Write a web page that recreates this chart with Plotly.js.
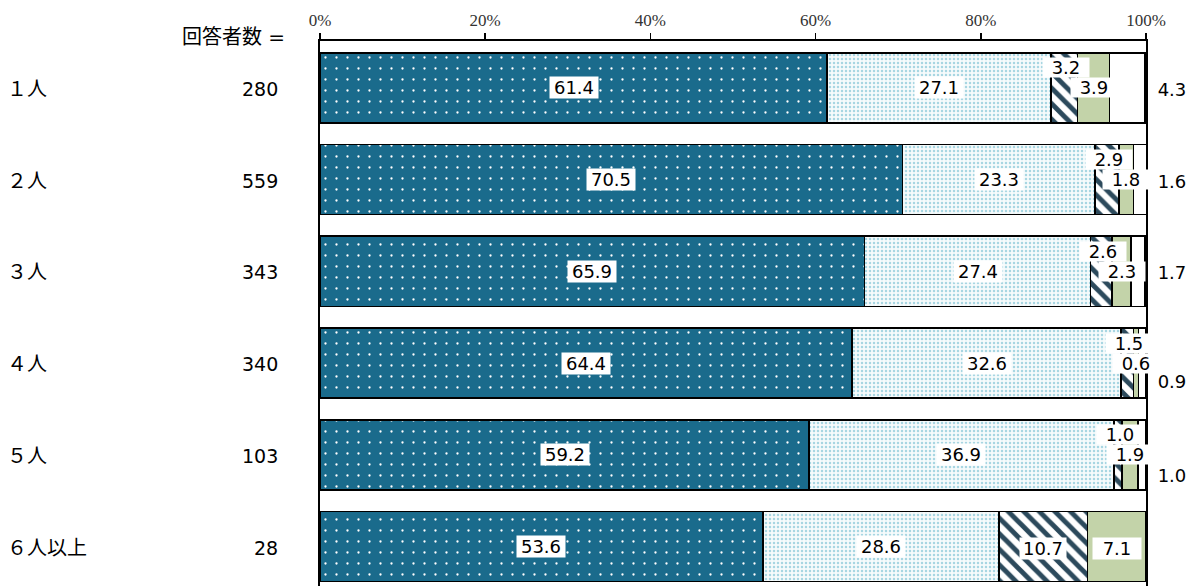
<!DOCTYPE html>
<html>
<head>
<meta charset="utf-8">
<script src="https://cdn.plot.ly/plotly-3.0.1.min.js"></script>
<style>html,body{margin:0;padding:0;background:#fff;}#chart{width:1195px;height:586px;}</style>
</head>
<body>
<div id="chart"></div>
<script>
// ---- data ----
const categories = ["１人", "２人", "３人", "４人", "５人", "６人以上"];
const respondents = [280, 559, 343, 340, 103, 28];
const series1 = [61.4, 70.5, 65.9, 64.4, 59.2, 53.6];
const series2 = [27.1, 23.3, 27.4, 32.6, 36.9, 28.6];
const series3 = [3.2, 2.9, 2.6, 1.5, 1.0, 10.7];
const series4 = [3.9, 1.8, 2.3, 0.6, 1.9, 7.1];
const series5 = [4.3, 1.6, 1.7, 0.9, 1.0, 0.0];
const xTicks = [0, 20, 40, 60, 80, 100];
const xTickText = ["0%", "20%", "40%", "60%", "80%", "100%"];
const headerLabel = "回答者数 =";

// ---- styles ----
const FONT = "DejaVu Sans, Noto Sans CJK JP, sans-serif";
const line = {color: "#000", width: 1.6};
const styles = [
  {color: "#1a6b8c", pattern: {shape: ".", fgcolor: "#ffffff", bgcolor: "#1a6b8c", size: 11, solidity: 0.035, fillmode: "replace"}},
  {color: "#f4fafb", pattern: {shape: ".", fgcolor: "#a8d6e2", bgcolor: "#f6fbfc", size: 4, solidity: 0.3, fillmode: "replace"}},
  {color: "#ffffff", pattern: {shape: "\\", fgcolor: "#2c4a5c", bgcolor: "#ffffff", size: 11, solidity: 0.45, fillmode: "replace"}},
  {color: "#c3d3a9"},
  {color: "#ffffff"}
];
const allSeries = [series1, series2, series3, series4, series5];

const traces = allSeries.map((vals, i) => ({
  type: "bar",
  orientation: "h",
  y: categories,
  x: vals,
  width: 0.763,
  marker: Object.assign({line: line}, styles[i]),
  hoverinfo: "skip",
  showlegend: false
}));

// ---- annotations ----
const annotations = [];
const boxFont = {family: FONT, size: 18, color: "#000"};
const outsideYShift = [-2, -2, -1, -18, -21, 0];

categories.forEach((cat, r) => {
  let cum = 0;
  allSeries.forEach((vals, s) => {
    const v = vals[r];
    const mid = cum + v / 2;
    cum += v;
    if (v <= 0) return;
    const small = v < 5;
    const a = {
      x: mid, y: cat, xref: "x", yref: "y",
      text: v.toFixed(1), showarrow: false,
      font: boxFont, bgcolor: "#ffffff", borderpad: 0,
      width: 48, height: 21, align: "center",
      xanchor: "center", yanchor: "middle"
    };
    if (s >= 2 && small) {
      if (s === 2) { a.yshift = 20; a.xshift = 2; }
      else if (s === 3) { a.xshift = 0; a.yshift = 0; }
      else {
        a.x = 100; a.xshift = 26; a.yshift = outsideYShift[r]; a.bgcolor = "rgba(0,0,0,0)";
      }
      a.width = 46; a.height = 19;
    }
    if (s === 2 && !small) { a.yshift = -2; a.width = 46; }
    if (s === 3 && !small) a.yshift = -2;
    annotations.push(a);
  });
  // left category label
  annotations.push({
    x: -0.381, y: cat, xref: "paper", yref: "y", text: cat, showarrow: false,
    xanchor: "left", yanchor: "middle", font: {family: FONT, size: 20, color: "#000"}, yshift: -1
  });
  // respondents
  annotations.push({
    x: -0.0484, y: cat, xref: "paper", yref: "y", text: String(respondents[r]), showarrow: false,
    xanchor: "right", yanchor: "middle", font: {family: FONT, size: 19, color: "#000"}, yshift: -1
  });
});
annotations.push({
  x: -0.04, y: 1.0073, xref: "paper", yref: "paper", text: headerLabel, showarrow: false,
  xanchor: "right", yanchor: "middle", font: {family: FONT, size: 20, color: "#000"}
});

const layout = {
  width: 1195, height: 586,
  margin: {l: 320, r: 49, t: 41, b: 0, pad: 0},
  paper_bgcolor: "#fff", plot_bgcolor: "#fff",
  barmode: "stack",
  xaxis: {
    side: "top", range: [0, 100], tickmode: "array", tickvals: xTicks, ticktext: xTickText,
    ticks: "outside", ticklen: 6, tickwidth: 1.5, tickcolor: "#000",
    showline: true, linecolor: "#000", linewidth: 2,
    showgrid: false, zeroline: false, fixedrange: true,
    tickfont: {family: "Liberation Serif", size: 17, color: "#333"}
  },
  yaxis: {
    type: "category", categoryarray: categories, range: [5.43, -0.51],
    showticklabels: false, ticks: "", showline: true, mirror: true,
    linecolor: "#000", linewidth: 2, showgrid: false, zeroline: false, fixedrange: true
  },
  annotations: annotations
};

Plotly.newPlot("chart", traces, layout, {displayModeBar: false, staticPlot: true});
</script>
</body>
</html>
